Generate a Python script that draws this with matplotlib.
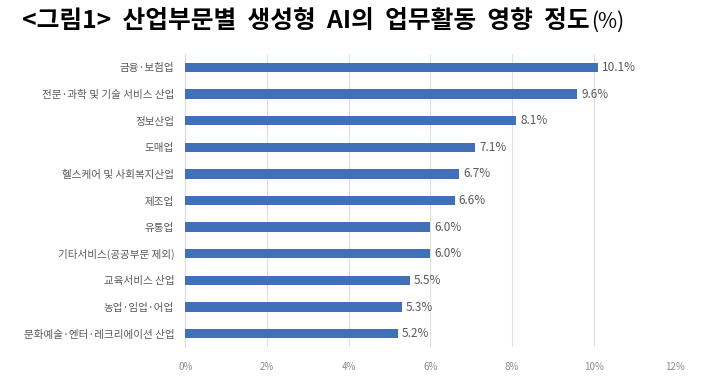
import matplotlib
matplotlib.use("Agg")
import matplotlib.pyplot as plt

plt.rcParams['font.family'] = ['Noto Sans CJK KR', 'DejaVu Sans']

categories = ["금융·보험업", "전문·과학 및 기술 서비스 산업", "정보산업", "도매업",
              "헬스케어 및 사회복지산업", "제조업", "유통업", "기타서비스(공공부문 제외)",
              "교육서비스 산업", "농업·임업·어업", "문화예술·엔터·레크리에이션 산업"]
values = [10.1, 9.6, 8.1, 7.1, 6.7, 6.6, 6.0, 6.0, 5.5, 5.3, 5.2]
xticks = [0, 2, 4, 6, 8, 10, 12]
title_main = "<그림1>  산업부문별  생성형  AI의  업무활동  영향  정도"
title_unit = "(%)"

fig = plt.figure(figsize=(7.10, 3.89), dpi=100)
ax = fig.add_axes([0.261, 0.108, 0.690, 0.753])

y = list(range(len(categories)))
ax.barh(y, values, height=0.35, color='#4170B8', zorder=3)
for yi, v in zip(y, values):
    ax.text(v + 0.1, yi, f"{v:.1f}%", va='center', ha='left', fontsize=8.5, color='#595959')

ax.set_ylim(len(categories) - 0.5, -0.5)
ax.set_xlim(0, 12)
ax.set_yticks(y)
ax.set_yticklabels(categories, fontsize=7.6, color='#595959')
ax.set_xticks(xticks)
ax.set_xticklabels([f"{t}%" for t in xticks], fontsize=7, color='#8c8c8c')
ax.tick_params(axis='y', length=0, pad=8)
ax.tick_params(axis='x', length=0, pad=11)
ax.grid(axis='x', color='#e0e0e0', linewidth=0.8, zorder=0)
for s in ['top', 'right', 'bottom']:
    ax.spines[s].set_visible(False)
ax.spines['left'].set_color('#d9d9d9')

t1 = fig.text(0.031, 0.945, title_main, fontsize=17.8, fontweight='bold', color='black', va='center', ha='left')
fig.canvas.draw()
bb = t1.get_window_extent(renderer=fig.canvas.get_renderer())
fig.text(bb.x1 / fig.bbox.width + 0.002, 0.945, title_unit, fontsize=15, fontweight='medium', color='black', va='center', ha='left')

fig.savefig("out.png", dpi=100)
